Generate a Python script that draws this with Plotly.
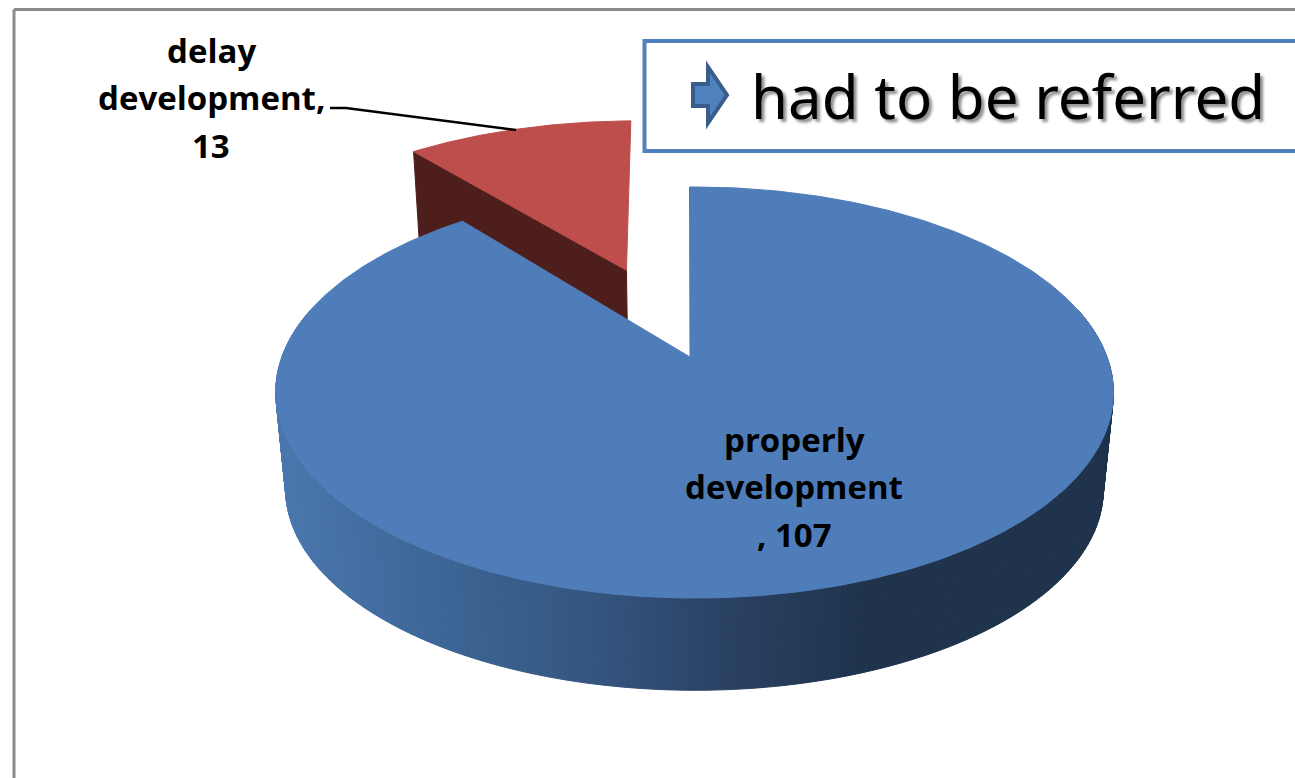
import numpy as np
import plotly.graph_objects as go

# Pie data
categories = ["properly development", "delay development"]
values = [107, 13]
label_lines = [["properly", "development", ", 107"], ["delay", "development,", "13"]]
callout_text = "had to be referred"

# Colours
BLUE_TOP = "#4e7dba"
RED_TOP = "#bd4e4b"
RED_SIDE = "#4d1e1c"
BLUE_CUT = "#2a4060"
wall_stops_x = [275, 450, 600, 720, 860, 1115]
wall_stops_r = [0x4b, 0x3c, 0x34, 0x2a, 0x1f, 0x1f]
wall_stops_g = [0x77, 0x64, 0x54, 0x42, 0x33, 0x33]
wall_stops_b = [0xae, 0x94, 0x7e, 0x64, 0x4d, 0x4c]

# Oblique view of the pie disc
CX, CY = 690.0, 357.0
A, B = 412.5, 199.4
K_Y, K_X = 0.1727, 0.0107
DEPTH = 98.0
BASE_SCALE = 0.976
EXPLODE = 0.5
RED_RADIUS = 1.02
RED_RIM_SHIFT_X = -4.5


def project(X, Y, base=False):
    """World coordinates on the unit disc to canvas coordinates."""
    X, Y = np.asarray(X, float), np.asarray(Y, float)
    w = 1 - K_Y * Y - K_X * X
    s = BASE_SCALE if base else 1.0
    return CX + s * A * X / w, CY + s * B * Y / w + (DEPTH if base else 0.0)


def wall_colour(x):
    r = np.interp(x, wall_stops_x, wall_stops_r)
    g = np.interp(x, wall_stops_x, wall_stops_g)
    b = np.interp(x, wall_stops_x, wall_stops_b)
    return f"rgb({r:.0f},{g:.0f},{b:.0f})"


def polygon(x, y, colour):
    return go.Scatter(
        x=list(x), y=list(y), mode="lines", fill="toself", fillcolor=colour,
        line=dict(color=colour, width=1), hoverinfo="skip", showlegend=False,
    )


total = sum(values)
blue_span = 2 * np.pi * values[0] / total
red_span = 2 * np.pi * values[1] / total

# Angles run clockwise from twelve o'clock
blue_t = np.linspace(0, blue_span, 420)
red_t = np.linspace(blue_span, blue_span + red_span, 80)
red_mid = blue_span + red_span / 2
off_x, off_y = EXPLODE * np.sin(red_mid), -EXPLODE * np.cos(red_mid)

fig = go.Figure()

# Detached slice: cut face first, then its top
rx_end = off_x + RED_RADIUS * np.sin(blue_span)
ry_end = off_y - RED_RADIUS * np.cos(blue_span)
p0 = project(off_x, off_y)
p1 = project(rx_end, ry_end)
b0 = project(off_x, off_y, base=True)
b1 = project(rx_end, ry_end, base=True)
fig.add_trace(polygon(
    [p1[0] + RED_RIM_SHIFT_X, p0[0], b0[0], b1[0] + RED_RIM_SHIFT_X, p1[0] + RED_RIM_SHIFT_X],
    [p1[1], p0[1], b0[1], b1[1], p1[1]], RED_SIDE))
rim_x, rim_y = project(off_x + RED_RADIUS * np.sin(red_t), off_y - RED_RADIUS * np.cos(red_t))
fig.add_trace(polygon(
    np.r_[p0[0], rim_x + RED_RIM_SHIFT_X, p0[0]], np.r_[p0[1], rim_y, p0[1]], RED_TOP))

# Main slice: shaded wall strips, the thin cut face, then the top
tx, ty = project(np.sin(blue_t), -np.cos(blue_t))
ux, uy = project(np.sin(blue_t), -np.cos(blue_t), base=True)
front = np.where(-np.cos(blue_t) > -0.25)[0]
for i, j in zip(front[:-1], front[1:]):
    fig.add_trace(polygon(
        [tx[i], tx[j], ux[j], ux[i], tx[i]], [ty[i], ty[j], uy[j], uy[i], ty[i]],
        wall_colour((tx[i] + tx[j]) / 2)))
fig.add_trace(polygon([tx[0], CX + 0.5, tx[0]], [ty[0], CY, ty[0]], BLUE_CUT))
fig.add_trace(polygon(np.r_[CX, tx, CX], np.r_[CY, ty, CY], BLUE_TOP))

# Leader line for the small slice
fig.add_trace(go.Scatter(
    x=[330, 346, 516], y=[108, 108, 130], mode="lines",
    line=dict(color="#000000", width=2.4), hoverinfo="skip", showlegend=False))

# Slice labels, one annotation per line for the wide leading
LABEL_FONT = dict(family="Open Sans", size=33, color="#000000", weight="bold")
label_anchor = [(794, 439), (211, 50)]
for lines, (lx, ly) in zip(label_lines, label_anchor):
    for n, line in enumerate(lines):
        fig.add_annotation(x=lx, y=ly + n * 47.5, text=line, showarrow=False,
                           xanchor="center", yanchor="middle", font=LABEL_FONT)

# Callout text
fig.add_annotation(
    x=749, y=96, text=callout_text, showarrow=False, xanchor="left", yanchor="middle",
    font=dict(family="Noto Sans", size=60, color="#000000",
              shadow="3px 3px 3px rgba(0,0,0,0.45)"))

shapes = [
    # Page frame
    dict(type="line", x0=14, x1=1295, y0=9.5, y1=9.5, line=dict(color="#8c8c8c", width=3)),
    dict(type="line", x0=14, x1=14, y0=9.5, y1=778, line=dict(color="#8c8c8c", width=3)),
    # Callout box
    dict(type="rect", x0=644.5, x1=1300, y0=41, y1=151, line=dict(color="#4f81bd", width=4),
         fillcolor="rgba(0,0,0,0)", layer="above"),
    # Callout arrow
    dict(type="path", path="M 693 84 L 708 84 L 708 67 L 727 95 L 708 123 L 708 106 L 693 106 Z",
         fillcolor="#4f81bd", line=dict(color="#385d8a", width=4), layer="above"),
]

fig.update_layout(
    width=1295, height=778, margin=dict(l=0, r=0, t=0, b=0),
    paper_bgcolor="#ffffff", plot_bgcolor="#ffffff", showlegend=False, shapes=shapes,
    xaxis=dict(range=[0, 1295], visible=False, fixedrange=True),
    yaxis=dict(range=[778, 0], visible=False, fixedrange=True),
)

fig.write_html("out.html")
